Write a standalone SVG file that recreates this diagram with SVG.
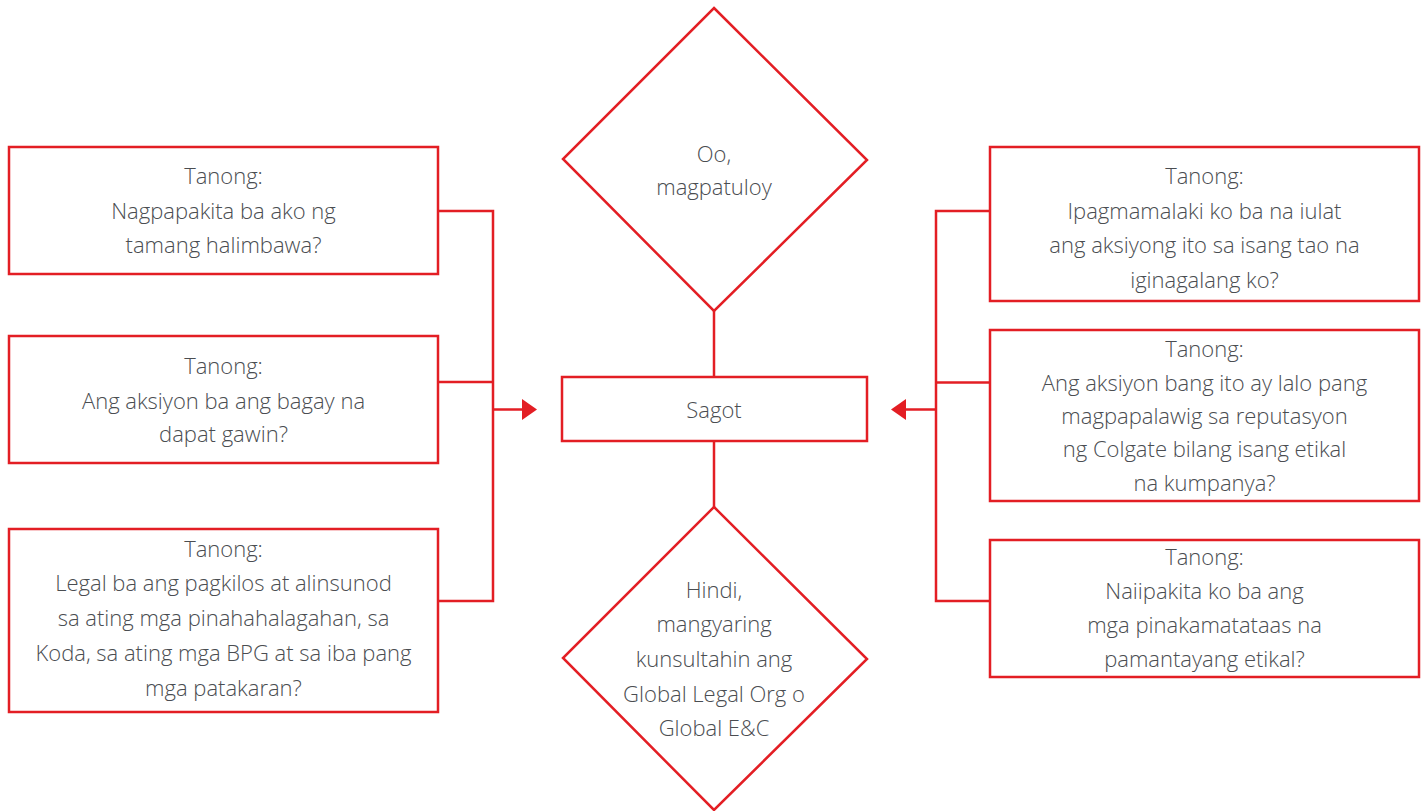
<svg xmlns="http://www.w3.org/2000/svg" width="1424" height="811" viewBox="0 0 1424 811">
<style>
.box{fill:#fff;stroke:#e31e24;stroke-width:2.5}
.ln{fill:none;stroke:#e31e24;stroke-width:2.5}
.ah{fill:#e31e24;stroke:none}
text{font-family:"Open Sans","Noto Sans",sans-serif;font-weight:300;font-size:22px;fill:#4a4d51;text-anchor:middle}
</style>
<rect width="1424" height="811" fill="#fff"/>
<g id="connectors">
<polyline class="ln" points="438,211 493,211 493,601 438,601"/>
<line class="ln" x1="438" y1="382" x2="493" y2="382"/>
<line class="ln" x1="493" y1="409.5" x2="524" y2="409.5"/>
<polygon class="ah" points="522,399 537,409.5 522,420"/>
<polyline class="ln" points="990,211 936,211 936,601 990,601"/>
<line class="ln" x1="990" y1="382.5" x2="936" y2="382.5"/>
<line class="ln" x1="936" y1="409.5" x2="905" y2="409.5"/>
<polygon class="ah" points="906,399 891,409.5 906,420"/>
<line class="ln" x1="714" y1="311" x2="714" y2="377"/>
<line class="ln" x1="714" y1="441" x2="714" y2="507"/>
</g>
<g id="q1">
<rect class="box" x="9" y="147" width="429" height="127"/>
<text x="223.5" y="184">Tanong:</text>
<text x="223.5" y="219">Nagpapakita ba ako ng</text>
<text x="223.5" y="253">tamang halimbawa?</text>
</g>
<g id="q2">
<rect class="box" x="9" y="336" width="429" height="127"/>
<text x="223.5" y="374">Tanong:</text>
<text x="223.5" y="409">Ang aksiyon ba ang bagay na</text>
<text x="223.5" y="442">dapat gawin?</text>
</g>
<g id="q3">
<rect class="box" x="9" y="529" width="429" height="183"/>
<text x="223.5" y="557">Tanong:</text>
<text x="223.5" y="591">Legal ba ang pagkilos at alinsunod</text>
<text x="223.5" y="626">sa ating mga pinahahalagahan, sa</text>
<text x="223.5" y="661">Koda, sa ating mga BPG at sa iba pang</text>
<text x="223.5" y="696">mga patakaran?</text>
</g>
<g id="q4">
<rect class="box" x="990" y="147" width="429" height="154"/>
<text x="1204.5" y="184">Tanong:</text>
<text x="1204.5" y="219">Ipagmamalaki ko ba na iulat</text>
<text x="1204.5" y="253">ang aksiyong ito sa isang tao na</text>
<text x="1204.5" y="288">iginagalang ko?</text>
</g>
<g id="q5">
<rect class="box" x="990" y="330" width="429" height="171"/>
<text x="1204.5" y="357">Tanong:</text>
<text x="1204.5" y="391">Ang aksiyon bang ito ay lalo pang</text>
<text x="1204.5" y="424">magpapalawig sa reputasyon</text>
<text x="1204.5" y="457">ng Colgate bilang isang etikal</text>
<text x="1204.5" y="491">na kumpanya?</text>
</g>
<g id="q6">
<rect class="box" x="990" y="540" width="429" height="137"/>
<text x="1204.5" y="565">Tanong:</text>
<text x="1204.5" y="599">Naiipakita ko ba ang</text>
<text x="1204.5" y="633">mga pinakamatataas na</text>
<text x="1204.5" y="667">pamantayang etikal?</text>
</g>
<g id="yes">
<polygon class="box" points="714,8 867,160 714,311 563,159"/>
<text x="714" y="162">Oo,</text>
<text x="714" y="195">magpatuloy</text>
</g>
<g id="answer">
<rect class="box" x="562" y="377" width="305" height="64"/>
<text x="714" y="418">Sagot</text>
</g>
<g id="no">
<polygon class="box" points="714,507 867,659 714,810 563,658"/>
<text x="714" y="598">Hindi,</text>
<text x="714" y="632">mangyaring</text>
<text x="714" y="667">kunsultahin ang</text>
<text x="714" y="702">Global Legal Org o</text>
<text x="714" y="736">Global E&amp;C</text>
</g>
</svg>
